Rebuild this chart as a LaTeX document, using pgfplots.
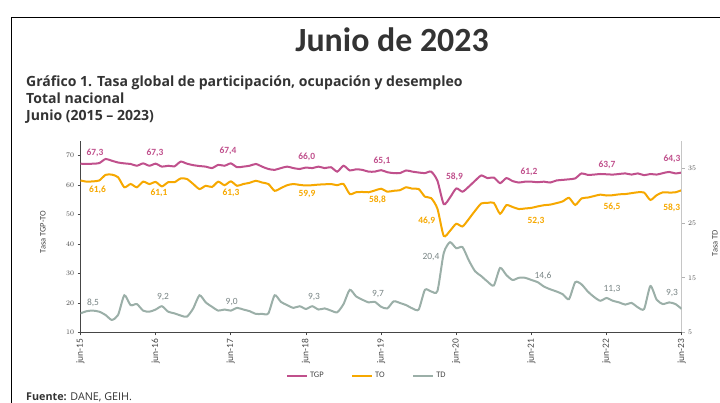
\documentclass[border=0pt]{standalone}
\usepackage{fontspec}
\setmainfont{Carlito}
\newfontfamily\osans{Open Sans}
\usepackage{pgfplots}
\pgfplotsset{compat=1.18}
\usepackage{pgfplotstable}

\definecolor{cTGP}{RGB}{192,80,140}
\definecolor{cTO}{RGB}{246,168,0}
\definecolor{cTD}{RGB}{155,175,168}
\definecolor{cLab}{RGB}{120,132,132}
\definecolor{cTit}{RGB}{51,51,51}
\definecolor{cAx}{RGB}{70,70,70}

% meses desde jun-15 (0) hasta jun-23 (96)
\pgfplotstableread{
m tgp to td
0 67.3 61.6 8.5
1 67.2 61.2 8.9
2 67.3 61.3 9.0
3 67.5 61.6 8.8
4 68.9 63.5 8.2
5 68.3 63.6 7.3
6 67.7 62.7 8.2
7 67.4 59.3 11.8
8 67.2 60.4 10.0
9 66.6 59.3 10.2
10 67.4 61.2 9.0
11 66.6 60.4 8.8
12 67.3 61.1 9.2
13 66.3 59.6 9.8
14 66.6 61.0 8.8
15 66.4 61.0 8.5
16 68.0 62.3 8.1
17 67.3 62.1 7.9
18 66.8 60.4 9.4
19 66.5 58.7 11.8
20 66.3 59.8 10.5
21 65.8 59.4 9.7
22 66.9 61.2 9.0
23 66.6 60.0 9.2
24 67.4 61.3 9.0
25 66.1 59.8 9.5
26 66.3 60.4 9.2
27 66.6 60.8 8.9
28 67.2 61.5 8.4
29 66.3 60.9 8.4
30 65.5 60.4 8.5
31 65.2 58.1 11.8
32 65.8 59.0 10.6
33 66.3 60.0 10.0
34 65.8 60.4 9.5
35 65.5 60.1 9.8
36 66.0 59.9 9.3
37 65.8 60.0 9.8
38 66.3 60.2 9.2
39 65.8 60.3 9.4
40 66.1 60.4 9.0
41 64.6 60.0 8.7
42 66.6 60.4 10.2
43 65.0 57.0 12.8
44 65.4 57.6 11.6
45 65.2 57.7 11.0
46 64.6 57.6 10.5
47 64.6 58.2 10.6
48 65.1 58.8 9.7
49 64.4 57.8 9.4
50 64.1 58.1 10.7
51 64.1 58.3 10.4
52 65.0 59.3 10.0
53 64.6 58.8 9.4
54 64.3 58.7 9.2
55 64.1 56.1 12.8
56 64.6 55.6 12.5
57 61.5 52.0 12.6
58 53.6 42.8 19.5
59 55.8 44.5 21.5
60 58.9 46.9 20.4
61 57.8 46.0 20.6
62 59.5 48.5 18.2
63 61.5 51.3 16.2
64 63.3 53.8 15.3
65 62.4 54.0 14.3
66 62.6 54.0 13.6
67 60.7 50.3 16.8
68 62.4 53.2 15.5
69 61.4 52.6 14.6
70 60.9 51.9 15.0
71 61.2 52.1 15.0
72 61.2 52.3 14.6
73 61.0 52.8 14.2
74 61.2 53.2 13.4
75 60.9 53.4 12.9
76 61.6 53.9 12.5
77 61.8 54.5 12.0
78 62.0 55.7 11.1
79 62.3 53.3 14.2
80 64.0 55.5 13.8
81 63.5 55.8 12.5
82 63.6 56.3 11.5
83 63.8 56.8 10.8
84 63.7 56.5 11.3
85 63.6 56.6 10.8
86 63.8 56.9 10.5
87 64.0 57.0 10.1
88 63.6 57.3 10.4
89 64.0 57.6 9.6
90 63.4 57.5 9.3
91 63.8 55.0 13.5
92 63.6 56.6 11.0
93 64.1 57.6 10.2
94 64.5 57.5 10.5
95 64.0 57.6 10.2
96 64.3 58.3 9.3
}\datos

\begin{document}
\begin{tikzpicture}
\path[use as bounding box] (0,0) rectangle (720bp,403bp);
\draw[line width=1.6bp] (11.5bp,0) -- (11.5bp,385.5bp) -- (722bp,385.5bp);

% titulos
\node[anchor=base, text=cTit, font=\fontsize{34}{40}\selectfont\bfseries] at (392bp,351bp) {Junio de 2023};
\begin{scope}[every node/.style={anchor=base west, inner sep=0, text=cTit, font=\osans\fontsize{14.1}{17}\selectfont\bfseries}]
\node at (26bp,316bp) {Gráfico 1. Tasa global de participación, ocupación y desempleo};
\node at (26bp,299bp) {Total nacional};
\node at (26bp,282bp) {Junio (2015 – 2023)};
\end{scope}
\node[anchor=base west, inner sep=0, text=cTit, font=\osans\fontsize{10.8}{12}\selectfont] at (26bp,3bp) {\textbf{Fuente:} DANE, GEIH.};

\begin{axis}[
  scale only axis, width=601.2bp, height=191.5bp,
  at={(80.5bp,70.5bp)}, anchor=south west,
  xmin=0, xmax=96, ymin=10, ymax=75,
  axis x line*=bottom, axis y line*=left,
  axis line style={cAx, line width=0.8bp},
  xtick={0,12,...,96},
  xticklabels={jun-15,jun-16,jun-17,jun-18,jun-19,jun-20,jun-21,jun-22,jun-23},
  xticklabel style={rotate=90, anchor=east, font=\fontsize{9.5}{10}\selectfont, text=cAx},
  ytick={10,20,...,70},
  yticklabel style={font=\fontsize{7.5}{8}\selectfont, text=cAx},
  tick align=outside, major tick length=3bp,
  tick style={cAx, line width=0.6bp},
  clip=false,
]
\addplot[cTGP, line width=2bp, smooth, tension=0.4] table[x=m, y=tgp] {\datos};
\addplot[cTO, line width=2bp, smooth, tension=0.4] table[x=m, y=to] {\datos};
\end{axis}

\begin{axis}[
  scale only axis, width=601.2bp, height=191.5bp,
  at={(80.5bp,70.5bp)}, anchor=south west,
  xmin=0, xmax=96, ymin=5, ymax=40,
  axis x line=none, axis y line*=right,
  axis line style={gray!45, line width=0.8bp},
  ytick={5,15,25,35},
  yticklabel style={font=\fontsize{7.5}{8}\selectfont, text=cAx},
  tick align=outside, major tick length=3bp,
  tick style={gray!60, line width=0.6bp},
  legend columns=3,
  legend style={at={(0.4766,-0.227)}, anchor=center, draw=none, fill=none,
    font=\fontsize{8.5}{9}\selectfont, text=cAx, inner sep=0pt,
    /tikz/every even column/.append style={column sep=26bp}},
  legend image code/.code={\draw[#1, line width=1.6bp] (0bp,0bp) -- (20bp,0bp);},
]
\addlegendimage{cTGP}\addlegendentry{TGP}
\addlegendimage{cTO}\addlegendentry{TO}
\addplot[cTD, line width=2bp, smooth, tension=0.4] table[x=m, y=td] {\datos};
\addlegendentry{TD}
\end{axis}

% rotulos de ejes
\node[rotate=90, text=cAx, font=\fontsize{8.5}{9}\selectfont] at (43bp,171bp) {Tasa TGP-TO};
\node[rotate=90, text=cAx, font=\fontsize{8.5}{9}\selectfont] at (715bp,160bp) {Tasa TD};

% etiquetas de datos TGP
\begin{scope}[every node/.style={font=\fontsize{9.5}{10}\selectfont\bfseries, text=cTGP}]
\node at (95bp,250bp) {67,3};
\node at (155bp,250bp) {67,3};
\node at (228bp,252bp) {67,4};
\node at (306.7bp,246.3bp) {66,0};
\node at (382bp,242bp) {65,1};
\node at (454.5bp,226.3bp) {58,9};
\node at (529bp,231.3bp) {61,2};
\node at (607bp,238bp) {63,7};
\node at (672bp,243.7bp) {64,3};
\end{scope}
% etiquetas de datos TO
\begin{scope}[every node/.style={font=\fontsize{9.5}{10}\selectfont\bfseries, text=cTO}]
\node at (97.5bp,213bp) {61,6};
\node at (159bp,209.7bp) {61,1};
\node at (231bp,210.3bp) {61,3};
\node at (307bp,208.7bp) {59,9};
\node at (377.5bp,203bp) {58,8};
\node at (426.7bp,182.3bp) {46,9};
\node at (536bp,182.3bp) {52,3};
\node at (612bp,196.3bp) {56,5};
\node at (671.7bp,194.7bp) {58,3};
\end{scope}
% etiquetas de datos TD
\begin{scope}[every node/.style={font=\fontsize{9.5}{10}\selectfont, text=cLab}]
\node at (93bp,100.3bp) {8,5};
\node at (163bp,106.3bp) {9,2};
\node at (231.7bp,101.3bp) {9,0};
\node at (314bp,106.3bp) {9,3};
\node at (378bp,108.7bp) {9,7};
\node at (431bp,145.7bp) {20,4};
\node at (543bp,127bp) {14,6};
\node at (612bp,113.7bp) {11,3};
\node at (672bp,110.3bp) {9,3};
\end{scope}
\end{tikzpicture}
\end{document}
